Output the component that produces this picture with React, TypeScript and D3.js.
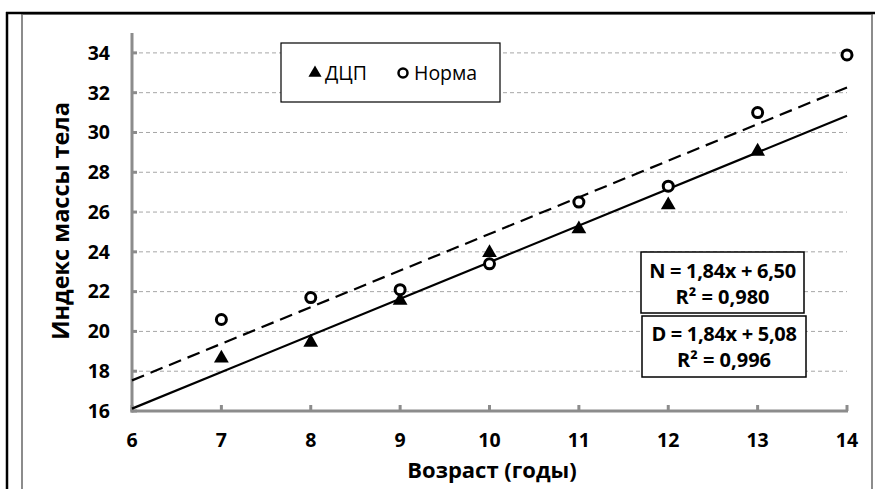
import React from "react";
import * as d3 from "d3";

const agesD = [7, 8, 9, 10, 11, 12, 13];
const bmiD = [18.7, 19.5, 21.6, 24.0, 25.2, 26.4, 29.1];
const agesN = [7, 8, 9, 10, 11, 12, 13, 14];
const bmiN = [20.6, 21.7, 22.1, 23.4, 26.5, 27.3, 31.0, 33.9];
const xTicks = [6, 7, 8, 9, 10, 11, 12, 13, 14];
const yTicks = [16, 18, 20, 22, 24, 26, 28, 30, 32, 34];
const trendN = { slope: 1.84, intercept: 6.5 };
const trendD = { slope: 1.84, intercept: 5.08 };
const eqN = ["N = 1,84x + 6,50", "R² = 0,980"];
const eqD = ["D = 1,84x + 5,08", "R² = 0,996"];
const legendLabels = ["ДЦП", "Норма"];
const xTitle = "Возраст (годы)";
const yTitle = "Индекс  массы тела";

const W = 875;
const H = 489;
const FONT = "'Open Sans', 'Liberation Sans', Arial, sans-serif";

export default function App() {
  const x = d3.scaleLinear().domain([6, 14]).range([132, 847]);
  const y = d3.scaleLinear().domain([16, 35]).range([411, 33]);
  const axisColor = "#8c8c8c";
  const tri = d3.symbol().type(d3.symbolTriangle).size(95);
  const triLeg = d3.symbol().type(d3.symbolTriangle).size(75);
  const trend = (t: { slope: number; intercept: number }) =>
    d3
      .line<number>()
      .x((d) => x(d))
      .y((d) => y(t.slope * d + t.intercept))([6, 14]) as string;

  return (
    <svg
      width={W}
      height={H}
      style={{ position: "absolute", left: 0, top: 0, fontFamily: FONT }}
    >
      <rect x={0} y={0} width={W} height={H} fill="#fff" />
      {/* outer frame */}
      <rect x={22} y={14} width={850} height={H} fill="#fff" stroke={axisColor} strokeWidth={2} />
      <line x1={6} y1={13} x2={W} y2={13} stroke="#000" strokeWidth={2.5} />
      <line x1={7} y1={12} x2={7} y2={H} stroke="#000" strokeWidth={2.5} />

      {/* gridlines */}
      {yTicks
        .filter((t) => t > 16)
        .map((t) => (
          <line
            key={"g" + t}
            x1={x(6)}
            x2={x(14)}
            y1={y(t)}
            y2={y(t)}
            stroke="#a6a6a6"
            strokeWidth={1}
            strokeDasharray="4,3"
          />
        ))}

      {/* axes */}
      <line x1={x(6)} x2={x(6)} y1={y(35)} y2={y(16) + 1.5} stroke={axisColor} strokeWidth={3} />
      <line x1={x(6) - 1.5} x2={x(14) + 1} y1={y(16)} y2={y(16)} stroke={axisColor} strokeWidth={3} />
      {yTicks.map((t) => (
        <line key={"yt" + t} x1={x(6)} x2={x(6) + 5} y1={y(t)} y2={y(t)} stroke={axisColor} strokeWidth={3} />
      ))}
      {xTicks.map((t) => (
        <line key={"xt" + t} x1={x(t)} x2={x(t)} y1={y(16)} y2={y(16) - 6} stroke={axisColor} strokeWidth={3} />
      ))}

      {/* tick labels */}
      {yTicks.map((t) => (
        <text
          key={"yl" + t}
          x={110}
          y={y(t)}
          dy="0.35em"
          textAnchor="end"
          fontSize={19.5}
          fontWeight="bold"
          fill="#000"
        >
          {t}
        </text>
      ))}
      {xTicks.map((t) => (
        <text
          key={"xl" + t}
          x={x(t)}
          y={440}
          dy="0.35em"
          textAnchor="middle"
          fontSize={19.5}
          fontWeight="bold"
          fill="#000"
        >
          {t}
        </text>
      ))}

      {/* axis titles */}
      <text x={492} y={470} dy="0.35em" textAnchor="middle" fontSize={22} fontWeight="bold">
        {xTitle}
      </text>
      <text
        transform={`translate(61,221) rotate(-90)`}
        dy="0.35em"
        textAnchor="middle"
        fontSize={23.5}
        fontWeight="bold"
      >
        {yTitle}
      </text>

      {/* trend lines */}
      <path d={trend(trendN)} stroke="#000" strokeWidth={2.2} fill="none" strokeDasharray="13,7" />
      <path d={trend(trendD)} stroke="#000" strokeWidth={2.2} fill="none" />

      {/* markers */}
      {agesD.map((a, i) => (
        <path key={"d" + i} d={tri() as string} transform={`translate(${x(a)},${y(bmiD[i]) + 1})`} fill="#000" />
      ))}
      {agesN.map((a, i) => (
        <circle key={"n" + i} cx={x(a)} cy={y(bmiN[i])} r={5} fill="#fff" stroke="#000" strokeWidth={3} />
      ))}

      {/* legend */}
      <rect x={281} y={43} width={219} height={59} fill="#fff" stroke="#000" strokeWidth={1.2} />
      <path d={triLeg() as string} transform={`translate(315,73)`} fill="#000" />
      <text x={325} y={73} dy="0.35em" fontSize={19.5}>
        {legendLabels[0]}
      </text>
      <circle cx={403} cy={73} r={4.5} fill="#fff" stroke="#000" strokeWidth={2.5} />
      <text x={414} y={73} dy="0.35em" fontSize={19.5}>
        {legendLabels[1]}
      </text>

      {/* equation boxes */}
      <rect x={641} y={252} width={163} height={61} fill="#fff" stroke="#000" strokeWidth={1.5} />
      <text x={722.5} y={271} dy="0.35em" textAnchor="middle" fontSize={20} fontWeight="bold" letterSpacing={-0.3}>
        {eqN[0]}
      </text>
      <text x={722.5} y={297} dy="0.35em" textAnchor="middle" fontSize={20} fontWeight="bold">
        {eqN[1]}
      </text>
      <rect x={642} y={316} width={164} height={61} fill="#fff" stroke="#000" strokeWidth={1.5} />
      <text x={724} y={334} dy="0.35em" textAnchor="middle" fontSize={20} fontWeight="bold" letterSpacing={-0.3}>
        {eqD[0]}
      </text>
      <text x={724} y={360} dy="0.35em" textAnchor="middle" fontSize={20} fontWeight="bold">
        {eqD[1]}
      </text>
    </svg>
  );
}
